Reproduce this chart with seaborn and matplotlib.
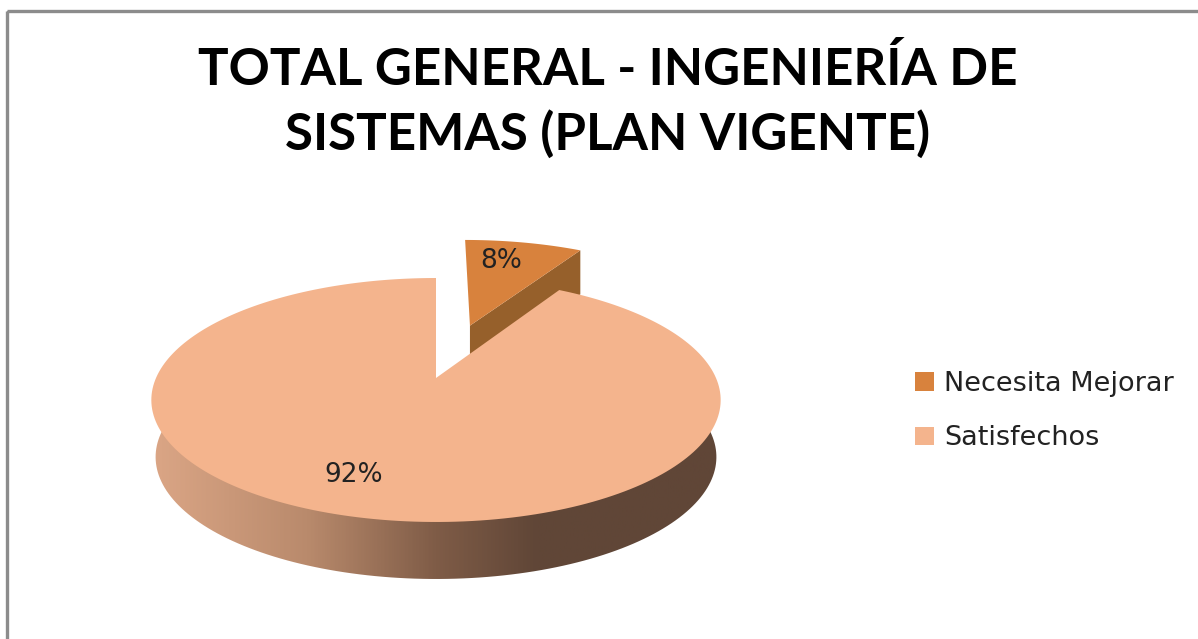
import numpy as np
import seaborn as sns
import matplotlib.pyplot as plt
from matplotlib.colors import LinearSegmentedColormap
from matplotlib.patches import Rectangle

categories = ['Necesita Mejorar', 'Satisfechos']
values = [8.49, 91.51]
explode = [0.5, 0]
title = 'TOTAL GENERAL - INGENIERÍA DE\nSISTEMAS (PLAN VIGENTE)'

sns.set_theme(style='white')
plt.rcParams['font.family'] = ['DejaVu Sans']
palette = sns.color_palette(['#D8823D', '#F4B48D'])
side_dark = '#96602B'
rim_colors = [(0, '#DAA585'), (0.27, '#B98A6C'), (0.5, '#7F5C47'), (0.68, '#604637'), (1, '#604637')]

fig = plt.figure(figsize=(11.98, 6.39), dpi=100)
ax = fig.add_axes([0, 0, 1, 1])

# pie works in unit circle coords, the wedges get pushed through a perspective map below
wedges, texts, autotexts = ax.pie(values, labels=None, colors=palette, explode=explode,
                                  startangle=90, counterclock=False, autopct='%.0f%%')


def project(x, y, xscale=1.0, drop=0.0):
    # fitted on the picture: pie apex at (437,378), back edge 278, front edge 522
    den = 1 + 0.1803 * y
    return 436 + 280 * xscale * x / den, (378 - 49.87 * y) / den + drop


def outline(w, n=240):
    t = np.radians(np.linspace(w.theta1, w.theta2, n))
    x = np.r_[w.center[0], w.center[0] + w.r * np.cos(t)]
    y = np.r_[w.center[1], w.center[1] + w.r * np.sin(t)]
    return x, y


for w in wedges:
    w.set_visible(False)

# exploded slice, its cut face first
sx, sy = outline(wedges[0])
px, py = project(sx, sy)
top_small = ax.fill(px, py, color=palette[0], lw=0, zorder=3)[0]
# theta runs clockwise here, so the first arc point is the right corner
face_x = [px[0], px[1], px[1], px[0]]
face_y = [py[0], py[1], py[1] + 44, py[0] + 44]
ax.fill(face_x, face_y, color=side_dark, lw=0, zorder=2)

# rim of the big slice, gradient clipped to the lower disc
mx, my = outline(wedges[1])
bx, by = project(mx, my, xscale=0.985, drop=57)
lower = ax.fill(bx, by, color='none', lw=0, zorder=4)[0]
cmap = LinearSegmentedColormap.from_list('rim', rim_colors)
img = ax.imshow(np.linspace(0, 1, 400)[None, :], cmap=cmap, extent=(155, 717, 600, 260),
                aspect='auto', zorder=4)
img.set_clip_path(lower)

px, py = project(mx, my)
top_big = ax.fill(px, py, color=palette[1], lw=0, zorder=5)[0]

autotexts[0].set_position((501, 261))
autotexts[1].set_position((354, 475))
for t in autotexts:
    t.set(fontsize=19, color='#222222', ha='center', va='center', zorder=6)

ax.set_xlim(0, 1198)
ax.set_ylim(639, 0)
ax.set_aspect('auto')
ax.axis('off')

ax.add_patch(Rectangle((6.5, 11), 1300, 800, fill=False, ec='#8C8C8C', lw=2.4, zorder=1))

ax.text(608, 102.5, title, ha='center', va='center', fontsize=36.8, fontweight='bold',
        family='Lato', color='black', linespacing=1.4)

ax.legend([top_small, top_big], categories, loc='upper left', bbox_to_anchor=(915 / 1198, 1 - 371 / 639),
          frameon=False, fontsize=19.5, labelcolor='#222222', handlelength=0.7, handleheight=0.65,
          handletextpad=0.37, labelspacing=1.05, borderpad=0, borderaxespad=0)

fig.savefig('out.png', dpi=100)
